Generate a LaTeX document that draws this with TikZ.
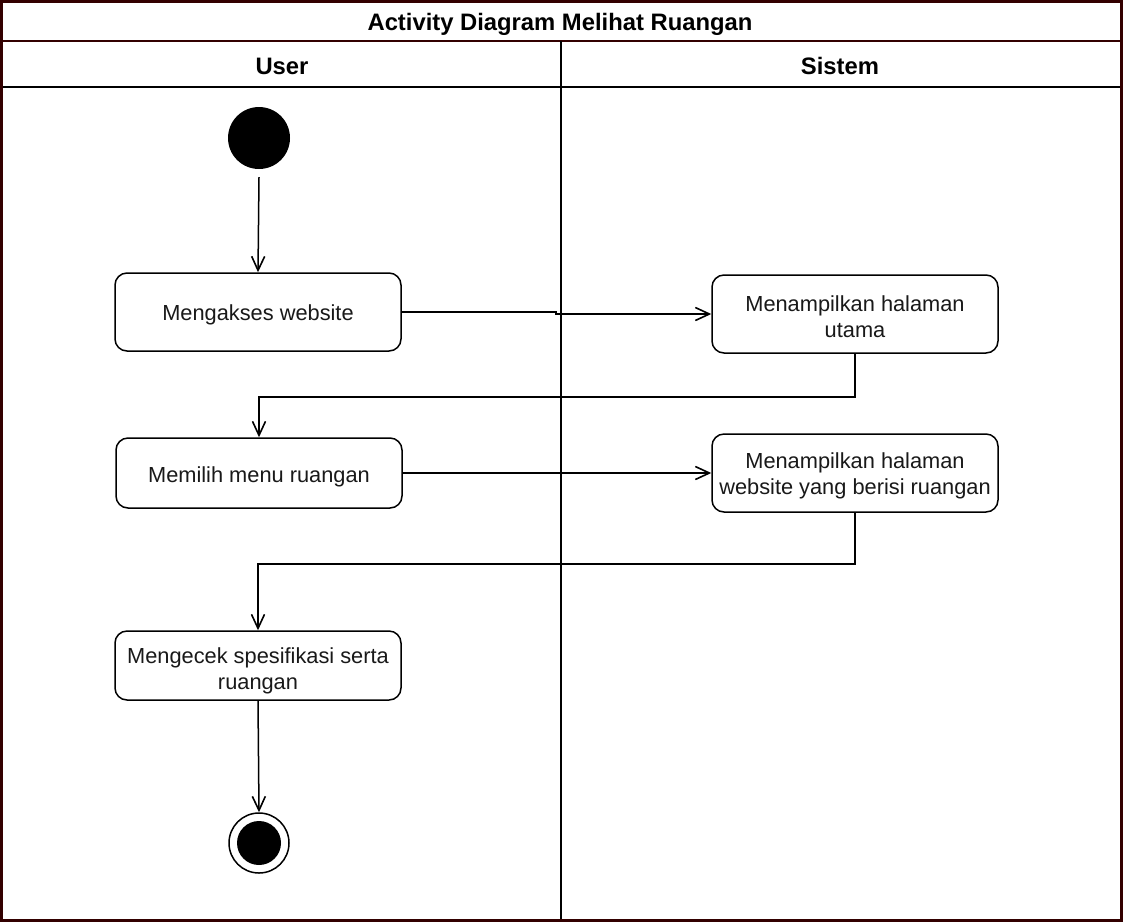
\documentclass[tikz,border=0pt]{standalone}
\usepackage{fontspec}
\setmainfont{Liberation Sans}
\usetikzlibrary{arrows.meta}
\definecolor{frame}{HTML}{330000}
\newcommand{\dn}[2]{\raisebox{-#1}[\height][\depth]{#2}}
\begin{document}
\begin{tikzpicture}[x=1pt,y=-1pt,
  act/.style={draw=black,line width=1.5pt,rounded corners=12pt,minimum width=286pt,align=center,font=\fontsize{21.8}{26}\selectfont,text=black!90,inner sep=0pt},
  flow/.style={draw=black,line width=1.5pt,-{Straight Barb[length=14pt,width=13pt,line width=1.6pt]}},
  hdr/.style={font=\fontsize{23.8}{28}\selectfont\bfseries}]
\useasboundingbox (0,0) rectangle (1124,922);
\fill[white] (0,0) rectangle (1124,922);
% swimlane frame
\draw[frame,line width=2pt] (1,41) -- (1122,41);
\draw[black,line width=2pt] (1,87) -- (1122,87);
\draw[black,line width=2pt] (561,41) -- (561,920);
\draw[frame,line width=2.5pt] (1.25,1.25) rectangle (1121.5,920.5);
\node[hdr] (title) at (560,24.5) {Activity Diagram Melihat Ruangan};
\node[hdr] (user) at (282,66) {User};
\node[hdr] (sistem) at (840,66) {Sistem};
% nodes
\node[circle,fill=black,minimum size=62pt,inner sep=0pt] (start) at (259,138) {};
\node[act,minimum height=78pt] (a1) at (258,312) {\dn{3pt}{Mengakses website}};
\node[act,minimum height=78pt] (a2) at (855,314) {\dn{2.5pt}{Menampilkan halaman}\\\dn{2.5pt}{utama}};
\node[act,minimum height=70pt] (a3) at (259,473) {\dn{3.5pt}{Memilih menu ruangan}};
\node[act,minimum height=78pt] (a4) at (855,473) {\dn{3pt}{Menampilkan halaman}\\\dn{3pt}{website yang berisi ruangan}};
\node[act,minimum height=69pt] (a5) at (258,665.5) {\dn{5pt}{Mengecek spesifikasi serta}\\\dn{5pt}{ruangan}};
\node[circle,draw=black,line width=1.5pt,minimum size=60pt,inner sep=0pt] (end) at (259,843) {};
\node[circle,fill=black,minimum size=44pt,inner sep=0pt] (endin) at (259,843) {};
% connectors
\coordinate (j1) at (556,312);
\coordinate (j2) at (556,314);
\draw[flow] (start.south) ++(0,8) -- (a1.north);
\draw[flow] (a1.east) -- (j1) -- (j2) -- (a2.west);
\draw[flow] (a2.south) -- ++(0,43) -| (a3.north);
\draw[flow] (a3.east) -- (a4.west |- a3.east);
\draw[flow] (a4.south) -- ++(0,51) -| (a5.north);
\draw[flow] (a5.south) -- (end.north);
\end{tikzpicture}
\end{document}
